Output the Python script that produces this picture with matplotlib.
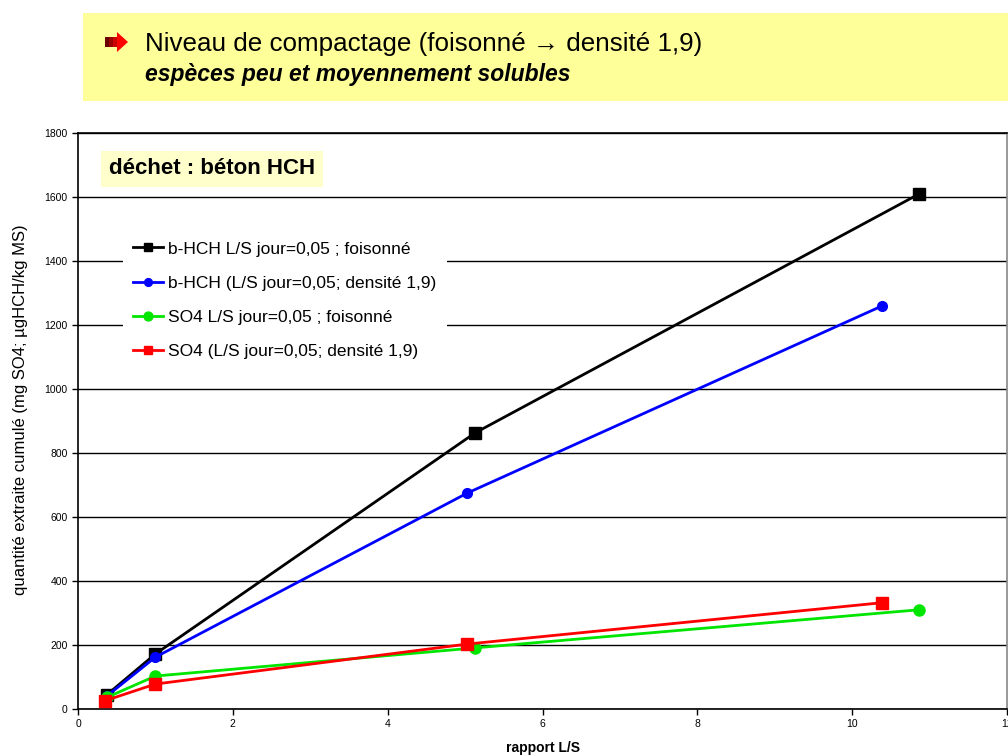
import numpy as np
import matplotlib
matplotlib.use('Agg')
import matplotlib.pyplot as plt
from matplotlib.patches import Rectangle, Polygon

plt.rcParams['font.family'] = ['Liberation Sans', 'DejaVu Sans']

# data
ls_hch_fois = [0.37, 1.0, 5.13, 10.86]
hch_fois = [44, 172, 863, 1609]
ls_hch_dens = [0.37, 1.0, 5.03, 10.38]
hch_dens = [40, 162, 675, 1259]
ls_so4_fois = [0.37, 1.0, 5.13, 10.86]
so4_fois = [36, 103, 191, 310]
ls_so4_dens = [0.35, 1.0, 5.03, 10.38]
so4_dens = [26, 78, 203, 332]

labels = ['b-HCH L/S jour=0,05 ; foisonné',
          'b-HCH (L/S jour=0,05; densité 1,9)',
          'SO4 L/S jour=0,05 ; foisonné',
          'SO4 (L/S jour=0,05; densité 1,9)']

W, H = 1008, 756
fig = plt.figure(figsize=(W/100, H/100), dpi=100)

# header band
fig.patches.append(Rectangle((83/W, 1-101/H), 1-83/W, 88/H, transform=fig.transFigure,
                             facecolor='#FFFF99', edgecolor='none', zorder=0))
# red arrow (dark red -> red)
ax0, ay0 = 105/W, 1-52/H
aw, ah = 23/W, 20/H
for i, c in enumerate(['#6B0000', '#9B0000', '#C80000']):
    fig.patches.append(Rectangle((ax0 + i*aw*0.18, ay0+ah*0.25), aw*0.19, ah*0.5,
                                 transform=fig.transFigure, facecolor=c, edgecolor='none'))
fig.patches.append(Polygon([(ax0+aw*0.52, ay0), (ax0+aw, ay0+ah/2), (ax0+aw*0.52, ay0+ah)],
                           closed=True, transform=fig.transFigure, facecolor='#FF0000', edgecolor='none'))
fig.text(145/W, 1-44/H, 'Niveau de compactage (foisonné \u2192 densité 1,9)', fontsize=18.7,
         va='center', ha='left')
fig.text(145/W, 1-75/H, 'espèces peu et moyennement solubles', fontsize=16.5,
         fontweight='bold', fontstyle='italic', va='center', ha='left')

ax = fig.add_axes([78/W, 1-709/H, 929/W, 576/H])
ax.plot(ls_hch_fois, hch_fois, color='black', marker='s', ms=8, lw=2, label=labels[0], zorder=3)
ax.plot(ls_hch_dens, hch_dens, color='blue', marker='o', ms=7, lw=2, label=labels[1], zorder=3)
ax.plot(ls_so4_fois, so4_fois, color='#00E600', marker='o', ms=8, lw=2, label=labels[2], zorder=3)
ax.plot(ls_so4_dens, so4_dens, color='red', marker='s', ms=8, lw=2, label=labels[3], zorder=3)

ax.set_xlim(0, 12)
ax.set_ylim(0, 1800)
ax.set_xticks(np.arange(0, 13, 2))
ax.set_yticks(np.arange(0, 1801, 200))
ax.yaxis.grid(True, color='black', lw=1)
ax.set_axisbelow(True)
ax.tick_params(labelsize=7.5, length=4, width=1)
for s in ax.spines.values():
    s.set_linewidth(1.2)
ax.spines['right'].set_color('#888888')

ax.set_ylabel('quantité extraite cumulé (mg SO4; µgHCH/kg MS)', fontsize=12)
ax.yaxis.set_label_coords(-50/929, 0.52)
ax.set_xlabel('rapport L/S', fontsize=10, fontweight='bold')
ax.xaxis.set_label_coords(0.50, -32/576)

leg = ax.legend(loc='upper left', bbox_to_anchor=(45/929, (709-231)/576), frameon=True,
                fontsize=12.5, labelspacing=1.1, handlelength=1.7, handletextpad=0.3,
                borderpad=0.6, borderaxespad=0, fancybox=False, markerscale=0.8)
leg.get_frame().set_edgecolor('none')
leg.get_frame().set_facecolor('white')
leg.get_frame().set_alpha(1)

ax.text(109/929 - 78/929, (709-169)/576, 'déchet : béton HCH', transform=ax.transAxes,
        fontsize=16, fontweight='bold', va='center', ha='left',
        bbox=dict(boxstyle='square,pad=0.35', facecolor='#FFFFCC', edgecolor='none'))

fig.savefig('out.png', dpi=100)
